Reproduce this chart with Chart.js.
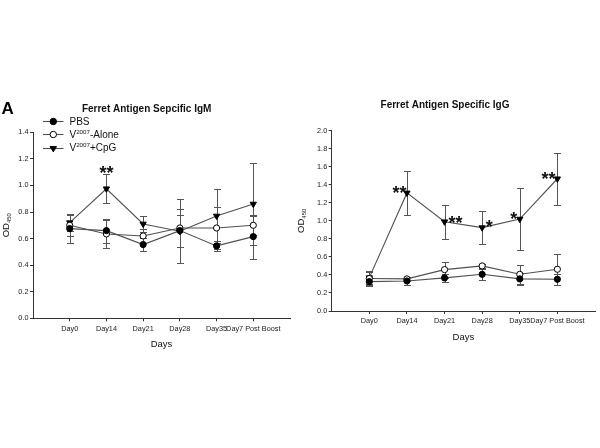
<!DOCTYPE html>
<html><head><meta charset="utf-8">
<script src="https://cdn.jsdelivr.net/npm/chart.js@4.4.0/dist/chart.umd.min.js"></script>
<style>
html,body{margin:0;padding:0;background:#fff;width:600px;height:448px;overflow:hidden;}
canvas{position:absolute;top:0;}
#c1{left:0;}
#c2{left:290px;}
</style></head><body>
<canvas id="c1" width="295" height="448"></canvas>
<canvas id="c2" width="310" height="448"></canvas>
<script>
// ---- data ----
const days = ['Day0', 'Day14', 'Day21', 'Day28', 'Day35', 'Day7 Post Boost'];
const seriesNames = ['PBS', 'V{2007}-Alone', 'V{2007}+CpG'];
const yTitle = 'OD[450]';
const xTitle = 'Days';
const panelLetter = 'A';
const igmTitle = 'Ferret Antigen Sepcific IgM';
const iggTitle = 'Ferret Antigen Specific IgG';
const igmTicks = [0, 0.2, 0.4, 0.6, 0.8, 1.0, 1.2, 1.4];
const iggTicks = [0, 0.2, 0.4, 0.6, 0.8, 1.0, 1.2, 1.4, 1.6, 1.8, 2.0];

const igmPBS = [0.675, 0.66, 0.555, 0.66, 0.545, 0.615];
const igmPBSErr = [0.11, 0.09, 0.05, 0.12, 0.035, 0.165];
const igmAlone = [0.70, 0.635, 0.62, 0.68, 0.68, 0.70];
const igmAloneErr = [0.08, 0.105, 0.05, 0.14, 0.16, 0.07];
const igmCpG = [0.72, 0.975, 0.71, 0.655, 0.77, 0.86];
const igmCpGErr = [0.065, 0.11, 0.06, 0.24, 0.2, 0.31];
const igmStars = ['', '**', '', '', '', ''];

const iggPBS = [0.326, 0.333, 0.367, 0.407, 0.356, 0.352];
const iggPBSErr = [0.05, 0.04, 0.04, 0.06, 0.065, 0.063];
const iggAlone = [0.36, 0.356, 0.459, 0.50, 0.407, 0.463];
const iggAloneErr = [0.07, 0.02, 0.09, 0.025, 0.108, 0.17];
const iggCpG = [0.37, 1.31, 0.99, 0.925, 1.02, 1.467];
const iggCpGErr = [0.07, 0.24, 0.19, 0.18, 0.345, 0.29];
const iggStars = ['', '**', '**', '*', '*', '**'];

// ---- styling ----
const FONT = '"Liberation Sans", Arial, Helvetica, sans-serif';
Chart.defaults.font.family = FONT;
const LINE = '#505050';
const AXIS = '#333';

function drawMarker(ctx, style, x, y, r) {
  ctx.save();
  ctx.lineWidth = 1;
  ctx.strokeStyle = '#000';
  ctx.beginPath();
  if (style === 'tri') {
    ctx.moveTo(x - r, y - r * 0.6);
    ctx.lineTo(x + r, y - r * 0.6);
    ctx.lineTo(x, y + r * 1.05);
    ctx.closePath();
    ctx.fillStyle = '#000';
  } else {
    ctx.arc(x, y, r, 0, Math.PI * 2);
    ctx.fillStyle = style === 'open' ? '#fff' : '#000';
  }
  ctx.fill();
  ctx.stroke();
  ctx.restore();
}

// rich text: {sup} and [sub]
function richParts(str) {
  const parts = [];
  const re = /(\{[^}]*\}|\[[^\]]*\])/g;
  let last = 0, m;
  while ((m = re.exec(str))) {
    if (m.index > last) parts.push({t: str.slice(last, m.index), k: 'n'});
    const s = m[0];
    parts.push({t: s.slice(1, -1), k: s[0] === '{' ? 'sup' : 'sub'});
    last = m.index + s.length;
  }
  if (last < str.length) parts.push({t: str.slice(last), k: 'n'});
  return parts;
}
function richWidth(ctx, str, size) {
  let w = 0;
  richParts(str).forEach(p => {
    ctx.font = (p.k === 'n' ? size : size * 0.62) + 'px ' + FONT;
    w += ctx.measureText(p.t).width;
  });
  return w;
}
function drawRich(ctx, str, x, y, size) {
  let cx = x;
  ctx.textBaseline = 'alphabetic';
  ctx.textAlign = 'left';
  richParts(str).forEach(p => {
    const s = p.k === 'n' ? size : size * 0.62;
    ctx.font = s + 'px ' + FONT;
    const dy = p.k === 'sup' ? -size * 0.42 : (p.k === 'sub' ? size * 0.22 : 0);
    ctx.fillText(p.t, cx, y + dy);
    cx += ctx.measureText(p.t).width;
  });
}

const markerStyles = ['filled', 'open', 'tri'];

const annot = {
  id: 'annot',
  beforeDatasetsDraw(chart, args, opts) {
    const ctx = chart.ctx, xs = chart.scales.x, ys = chart.scales.y;
    ctx.save();
    ctx.strokeStyle = '#555';
    ctx.lineWidth = 1;
    chart.data.datasets.forEach(ds => {
      ds.data.forEach((p, i) => {
        const e = ds.errors[i];
        const px = Math.round(xs.getPixelForValue(p.x)) + 0.5;
        const y1 = Math.round(ys.getPixelForValue(p.y + e)) + 0.5;
        const y2 = Math.round(ys.getPixelForValue(p.y - e)) + 0.5;
        ctx.beginPath();
        ctx.moveTo(px, y1); ctx.lineTo(px, y2);
        ctx.moveTo(px - 3.5, y1); ctx.lineTo(px + 3.5, y1);
        ctx.moveTo(px - 3.5, y2); ctx.lineTo(px + 3.5, y2);
        ctx.stroke();
      });
    });
    ctx.restore();
  },
  afterDatasetsDraw(chart, args, opts) {
    const ctx = chart.ctx, xs = chart.scales.x, ys = chart.scales.y;
    const ds = chart.data.datasets[2];
    ctx.save();
    ctx.fillStyle = '#111';
    ctx.textAlign = 'center';
    ctx.textBaseline = 'alphabetic';
    const size = 18;
    ctx.font = 'bold ' + size + 'px ' + FONT;
    opts.stars.forEach((s, i) => {
      if (!s) return;
      const p = ds.data[i];
      const off = opts.starOffsets[i];
      const cx = xs.getPixelForValue(p.x) + off[0];
      const cy = ys.getPixelForValue(p.y) + off[1];
      ctx.fillText(s, cx, cy + size * 0.58);
    });
    ctx.restore();
  },
  afterDraw(chart, args, opts) {
    const ctx = chart.ctx, area = chart.chartArea;
    ctx.save();
    ctx.fillStyle = '#111';
    const ysz = 9.5;
    const w = richWidth(ctx, yTitle, ysz);
    ctx.translate(area.left + opts.yTitleDx, (area.top + area.bottom) / 2);
    ctx.rotate(-Math.PI / 2);
    drawRich(ctx, yTitle, -w / 2, 3, ysz);
    ctx.restore();

    if (opts.legend) {
      ctx.save();
      const rows = [121, 134.3, 147.6];
      seriesNames.forEach((name, i) => {
        const y = rows[i];
        ctx.strokeStyle = LINE;
        ctx.lineWidth = 1.1;
        ctx.beginPath();
        ctx.moveTo(43, Math.round(y) + 0.5);
        ctx.lineTo(63.5, Math.round(y) + 0.5);
        ctx.stroke();
        drawMarker(ctx, markerStyles[i], 53.3, Math.round(y) + 0.5, 3.2);
        ctx.fillStyle = '#111';
        drawRich(ctx, name, 69.5, y + 3.5, 10);
      });
      ctx.font = 'bold 17px ' + FONT;
      ctx.textAlign = 'left';
      ctx.textBaseline = 'alphabetic';
      ctx.fillStyle = '#000';
      ctx.fillText(panelLetter, 1.5, 113.5);
      ctx.restore();
    }
  }
};

function datasets(pbs, pbsErr, alone, aloneErr, cpg, cpgErr) {
  const pts = arr => arr.map((v, i) => ({x: i + 1, y: v}));
  const base = {borderColor: LINE, borderWidth: 1.1, pointRadius: 3.1, pointBorderColor: '#000',
                pointBorderWidth: 1, fill: false, tension: 0};
  return [
    Object.assign({}, base, {label: 'PBS', data: pts(pbs), errors: pbsErr, pointStyle: 'circle', pointBackgroundColor: '#000'}),
    Object.assign({}, base, {label: 'V2007-Alone', data: pts(alone), errors: aloneErr, pointStyle: 'circle', pointBackgroundColor: '#fff'}),
    Object.assign({}, base, {label: 'V2007+CpG', data: pts(cpg), errors: cpgErr, pointStyle: 'triangle', rotation: 180, pointRadius: 3.6, pointBackgroundColor: '#000'})
  ];
}

function makeChart(el, cfg) {
  return new Chart(document.getElementById(el), {
    type: 'line',
    data: {datasets: cfg.datasets},
    plugins: [annot],
    options: {
      responsive: false,
      animation: false,
      devicePixelRatio: 1,
      layout: {padding: cfg.padding},
      plugins: {
        legend: {display: false},
        tooltip: {enabled: false},
        title: {display: true, text: cfg.title, color: '#111',
                font: {size: 10, weight: 'bold', family: FONT},
                padding: cfg.titlePad},
        annot: {stars: cfg.stars, starOffsets: cfg.starOffsets, legend: cfg.legend, yTitleDx: cfg.yTitleDx}
      },
      scales: {
        x: {
          type: 'linear', min: 0, max: 7,
          afterBuildTicks: s => { s.ticks = days.map((d, i) => ({value: i + 1})); },
          ticks: {callback: v => days[v - 1] || '', font: {size: 7.3}, color: '#222', padding: 3,
                  maxRotation: 0, autoSkip: false},
          grid: {display: true, drawOnChartArea: false, drawTicks: true, tickLength: 3, color: AXIS},
          border: {display: true, color: AXIS, width: 1},
          title: {display: true, text: xTitle, color: '#111', font: {size: 9.5}, padding: {top: 0, bottom: 8.3}},
          afterFit: s => { s.height = 40; }
        },
        y: {
          type: 'linear', min: 0, max: cfg.yTicks[cfg.yTicks.length - 1],
          afterBuildTicks: s => { s.ticks = cfg.yTicks.map(v => ({value: v})); },
          ticks: {callback: v => Number(v).toFixed(1), font: {size: 7.3}, color: '#222', padding: 1.5},
          grid: {display: true, drawOnChartArea: false, drawTicks: true, tickLength: 3, color: AXIS},
          border: {display: true, color: AXIS, width: 1},
          afterFit: s => { s.width = cfg.yWidth; }
        }
      }
    }
  });
}

makeChart('c1', {
  datasets: datasets(igmPBS, igmPBSErr, igmAlone, igmAloneErr, igmCpG, igmCpGErr),
  title: igmTitle,
  titlePad: {top: 102.8, bottom: 17.5},
  padding: {left: 0, right: 1.7, top: 0, bottom: 89.7},
  yWidth: 33,
  yTicks: igmTicks,
  stars: igmStars,
  starOffsets: [[0, 0], [0, -20], [0, 0], [0, 0], [0, 0], [0, 0]],
  legend: true,
  yTitleDx: -27
});

makeChart('c2', {
  datasets: datasets(iggPBS, iggPBSErr, iggAlone, iggAloneErr, iggCpG, iggCpGErr),
  title: iggTitle,
  titlePad: {top: 99, bottom: 19.7},
  padding: {left: 0, right: 0, top: 0, bottom: 97},
  yWidth: 41.7,
  yTicks: iggTicks,
  stars: iggStars,
  starOffsets: [[0, 0], [-7.5, -4], [11, -3], [7, -5], [-6, -4], [-9, -4]],
  legend: false,
  yTitleDx: -30.7
});
</script>
</body></html>
